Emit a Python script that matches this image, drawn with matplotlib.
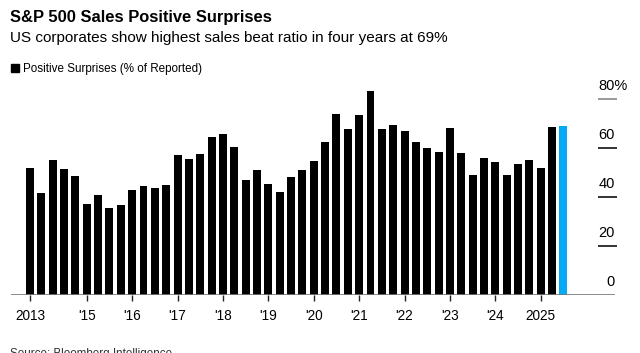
import matplotlib.pyplot as plt

plt.rcParams["font.family"] = ["Liberation Sans", "DejaVu Sans"]

# =========================
# data (quarterly, 4Q2013 .. 3Q2025)
# =========================
positive_pct = [
    51.7, 41.6, 55.0, 51.3, 48.4, 37.1, 40.7, 35.5, 36.9, 42.9,
    44.4, 43.5, 44.8, 57.3, 55.6, 57.4, 64.4, 65.6, 60.3, 46.9,
    51.0, 45.3, 42.0, 48.0, 51.0, 54.7, 62.3, 73.8, 67.8, 73.3,
    83.4, 67.8, 69.4, 66.8, 62.6, 60.0, 58.4, 68.0, 57.8, 49.0,
    55.8, 54.2, 48.8, 53.5, 55.0, 51.7, 68.7, 69.0,
]
tick_idx = [0, 5, 9, 13, 17, 21, 25, 29, 33, 37, 41, 45]
tick_labels = ["2013", "'15", "'16", "'17", "'18", "'19", "'20", "'21",
               "'22", "'23", "'24", "2025"]
y_ticks = [0, 20, 40, 60, 80]

W, H = 640, 353
fig = plt.figure(figsize=(W / 100, H / 100), dpi=100)

# axes placed in pixels: baseline y=295, x from 11 to 615
px_per_bar = 11.35
x0_px = 30
ax_left, ax_right = 11, 615
base_y = 295
px_per_unit = 2.45
ymax = 90
ax = fig.add_axes([ax_left / W, (H - base_y) / H,
                   (ax_right - ax_left) / W, ymax * px_per_unit / H])
ax.set_xlim((ax_left - x0_px) / px_per_bar, (ax_right - x0_px) / px_per_bar)
ax.set_ylim(0, ymax)

colors = ["#000000"] * (len(positive_pct) - 1) + ["#06A9F4"]
ax.bar(range(len(positive_pct)), positive_pct, width=0.7, color=colors, zorder=2)

for s in ax.spines.values():
    s.set_visible(False)
ax.axhline(0, color="#777777", lw=1.2, zorder=3)

ax.set_yticks([])
ax.set_xticks(tick_idx)
ax.set_xticklabels(tick_labels, fontsize=9.8)
ax.tick_params(axis="x", length=4, width=1, color="#222222", pad=6)

# right side value labels with short lines
xl = (598 - x0_px) / px_per_bar
xr = (617 - x0_px) / px_per_bar
for v in y_ticks:
    if v > 0:
        ax.plot([xl, xr], [v, v], color="#888888" if v == 80 else "#111111",
                lw=1.2, clip_on=False, solid_capstyle="butt")
    off = 9.3 / px_per_unit
    if v == 80:
        ax.text(xl, v + off, "80%", fontsize=10.5, ha="left", va="baseline")
    else:
        ax.text((615 - x0_px) / px_per_bar, v + off, str(v), fontsize=10.5,
                ha="right", va="baseline")

# =========================
# titles / legend / source
# =========================
def fx(p):
    return p / W

def fy(p):
    return 1 - p / H

fig.text(fx(10), fy(21.7), "S&P 500 Sales Positive Surprises", fontsize=11.9,
         fontweight="bold", va="baseline")
fig.text(fx(10), fy(42.3), "US corporates show highest sales beat ratio in four years at 69%",
         fontsize=11.0, va="baseline")
fig.patches.append(plt.Rectangle((fx(11), fy(72)), 8 / W, 8 / H,
                                 transform=fig.transFigure, color="black"))
fig.text(fx(23), fy(72.3), "Positive Surprises (% of Reported)", fontsize=8.4,
         va="baseline")
fig.text(fx(10), fy(348), "Source: Bloomberg Intelligence", fontsize=8.4,
         va="top", color="#333333")

fig.savefig("out.png", dpi=100)
